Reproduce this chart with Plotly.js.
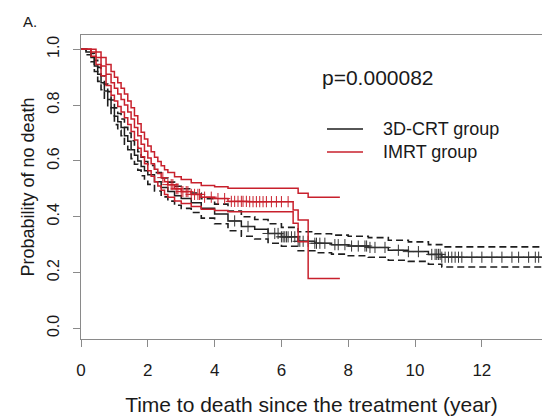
<!DOCTYPE html>
<html>
<head>
<meta charset="utf-8">
<script src="https://cdn.plot.ly/plotly-3.0.1.min.js"></script>
<style>
  html, body { margin: 0; padding: 0; background: #ffffff; }
  #chart { width: 542px; height: 416px; }
</style>
</head>
<body>
<div id="chart"></div>
<script>
// ---- 3D-CRT group (Kaplan-Meier estimate with 95% CI) ----
const crtTime  = [0, 0.15, 0.3, 0.4, 0.5, 0.6, 0.7, 0.8, 0.9, 1.0, 1.1, 1.2, 1.3, 1.4, 1.5, 1.6, 1.7, 1.8, 1.9, 2.0, 2.2, 2.4, 2.6, 2.8, 3.0, 3.3, 3.6, 4.0, 4.4, 4.8, 5.2, 5.6, 6.0, 6.5, 7.0, 7.5, 8.0, 8.6, 9.2, 9.8, 10.4, 10.8, 13.8];
const crtSurv  = [1.0, 0.99, 0.97, 0.94, 0.91, 0.88, 0.85, 0.82, 0.79, 0.76, 0.74, 0.72, 0.69, 0.67, 0.64, 0.62, 0.60, 0.58, 0.565, 0.55, 0.525, 0.505, 0.49, 0.475, 0.465, 0.45, 0.43, 0.41, 0.385, 0.365, 0.355, 0.34, 0.328, 0.312, 0.305, 0.30, 0.295, 0.29, 0.28, 0.275, 0.265, 0.255, 0.255];
const crtUpper = [1.0, 1.0, 0.985, 0.96, 0.935, 0.905, 0.875, 0.848, 0.818, 0.79, 0.77, 0.75, 0.72, 0.70, 0.672, 0.652, 0.633, 0.613, 0.598, 0.584, 0.558, 0.539, 0.524, 0.509, 0.50, 0.485, 0.465, 0.445, 0.42, 0.40, 0.39, 0.375, 0.362, 0.346, 0.339, 0.334, 0.33, 0.325, 0.316, 0.31, 0.30, 0.292, 0.292];
const crtLower = [1.0, 0.98, 0.955, 0.92, 0.885, 0.855, 0.825, 0.792, 0.762, 0.73, 0.71, 0.69, 0.66, 0.64, 0.608, 0.588, 0.567, 0.547, 0.532, 0.516, 0.492, 0.471, 0.456, 0.441, 0.43, 0.415, 0.395, 0.375, 0.35, 0.33, 0.32, 0.305, 0.294, 0.278, 0.271, 0.266, 0.26, 0.255, 0.244, 0.24, 0.23, 0.22, 0.22];
const crtCensor = [4.6, 5.0, 5.6, 5.8, 5.9, 6.0, 6.05, 6.1, 6.15, 6.2, 6.3, 6.4, 6.5, 6.55, 6.65, 6.8, 7.0, 7.05, 7.15, 7.3, 7.6, 7.7, 7.9, 8.1, 8.3, 8.5, 8.55, 8.65, 8.8, 9.1, 9.5, 9.8, 10.1, 10.5, 10.6, 10.65, 10.7, 10.75, 10.8, 10.9, 11.0, 11.1, 11.2, 11.3, 11.4, 11.7, 12.0, 12.3, 12.6, 12.9, 13.1, 13.4, 13.6, 13.7];

// ---- IMRT group ----
const imrtTime  = [0, 0.3, 0.45, 0.6, 0.75, 0.9, 1.0, 1.1, 1.2, 1.3, 1.4, 1.5, 1.6, 1.7, 1.8, 1.9, 2.0, 2.1, 2.2, 2.3, 2.4, 2.5, 2.6, 2.8, 3.0, 3.3, 3.6, 4.0, 4.4, 5.0, 5.5, 6.35, 6.5, 6.8, 7.75];
const imrtSurv  = [1.0, 0.99, 0.97, 0.94, 0.91, 0.88, 0.86, 0.84, 0.82, 0.80, 0.775, 0.75, 0.72, 0.69, 0.66, 0.635, 0.61, 0.59, 0.57, 0.555, 0.54, 0.525, 0.515, 0.50, 0.49, 0.48, 0.47, 0.465, 0.455, 0.454, 0.454, 0.424, 0.388, 0.179, 0.179];
const imrtUpper = [1.0, 1.0, 0.99, 0.97, 0.945, 0.92, 0.90, 0.88, 0.86, 0.84, 0.815, 0.79, 0.762, 0.733, 0.703, 0.678, 0.653, 0.633, 0.613, 0.598, 0.583, 0.568, 0.558, 0.543, 0.533, 0.522, 0.512, 0.507, 0.502, 0.502, 0.502, 0.502, 0.484, 0.47, 0.47];
const imrtLower = [1.0, 0.975, 0.945, 0.905, 0.87, 0.835, 0.815, 0.795, 0.775, 0.755, 0.73, 0.705, 0.675, 0.645, 0.615, 0.59, 0.565, 0.545, 0.525, 0.51, 0.495, 0.48, 0.47, 0.456, 0.447, 0.437, 0.427, 0.422, 0.418, 0.418, 0.418, 0.377, 0.31, 0.31, null];
const imrtCensor = [2.45, 2.6, 2.7, 2.75, 2.85, 2.9, 3.0, 3.05, 3.15, 3.2, 3.3, 3.4, 3.5, 3.55, 3.7, 3.9, 4.1, 4.3, 4.5, 4.6, 4.7, 4.8, 4.85, 4.95, 5.05, 5.15, 5.25, 5.35, 5.45, 5.55, 5.7, 5.85, 6.0, 6.2];

// ---- axes / labels ----
const xTicks = [0, 2, 4, 6, 8, 10, 12];
const yTicks = [0, 0.2, 0.4, 0.6, 0.8, 1.0];
const yTickText = ["0.0", "0.2", "0.4", "0.6", "0.8", "1.0"];
const groupNames = ["3D-CRT group", "IMRT group"];

const BLACK = "#1e1e1e";
const RED = "#c8202c";
const FONT = "Liberation Sans, Arial, sans-serif";

function stepValue(times, surv, t) {
  let v = surv[0];
  for (let i = 0; i < times.length; i++) {
    if (times[i] <= t && surv[i] !== null) v = surv[i];
  }
  return v;
}

const traces = [
  {x: crtTime, y: crtUpper, mode: "lines", name: groupNames[0] + " 95% CI upper", line: {shape: "hv", color: BLACK, width: 1.6, dash: "7px,4px"}, showlegend: false},
  {x: crtTime, y: crtLower, mode: "lines", name: groupNames[0] + " 95% CI lower", line: {shape: "hv", color: BLACK, width: 1.6, dash: "7px,4px"}, showlegend: false},
  {x: crtTime, y: crtSurv, mode: "lines", name: groupNames[0], line: {shape: "hv", color: BLACK, width: 1.5}, showlegend: false},
  {x: crtCensor, y: crtCensor.map(t => stepValue(crtTime, crtSurv, t)), mode: "markers", name: groupNames[0] + " censored", showlegend: false,
   marker: {symbol: "cross-thin", size: 8, color: BLACK, line: {color: "#333", width: 1}}},
  {x: imrtTime, y: imrtUpper, mode: "lines", name: groupNames[1] + " 95% CI upper", line: {shape: "hv", color: RED, width: 1.5}, showlegend: false},
  {x: imrtTime, y: imrtLower, mode: "lines", name: groupNames[1] + " 95% CI lower", line: {shape: "hv", color: RED, width: 1.5}, showlegend: false},
  {x: imrtTime, y: imrtSurv, mode: "lines", name: groupNames[1], line: {shape: "hv", color: RED, width: 1.5}, showlegend: false},
  {x: imrtCensor, y: imrtCensor.map(t => stepValue(imrtTime, imrtSurv, t)), mode: "markers", name: groupNames[1] + " censored", showlegend: false,
   marker: {symbol: "cross-thin", size: 8, color: RED, line: {color: RED, width: 1}}}
];

// legend drawn as key lines + labels (paper coordinates of the plot area)
const legendColors = [BLACK, RED];
const legendY = [0.691, 0.615];
const shapes = legendColors.map((c, i) => ({
  type: "line", xref: "paper", yref: "paper", x0: 0.5336, x1: 0.6117, y0: legendY[i], y1: legendY[i],
  line: {color: c, width: 1.5}
}));

const layout = {
  width: 542, height: 416,
  margin: {l: 81, r: 0, t: 35, b: 77},
  paper_bgcolor: "#ffffff", plot_bgcolor: "#ffffff",
  font: {family: FONT, color: "#1a1a1a"},
  showlegend: false,
  xaxis: {
    range: [0, 13.8], tickmode: "array", tickvals: xTicks, ticktext: xTicks.map(String),
    ticks: "outside", ticklen: 7, tickcolor: "#8a8a8a", tickwidth: 1, ticklabelstandoff: 9,
    showline: true, linecolor: "#8a8a8a", linewidth: 1, mirror: true,
    showgrid: false, zeroline: false, tickfont: {family: FONT, size: 17, color: "#1a1a1a"},
    title: {text: "Time to death since the treatment (year)", font: {family: FONT, size: 21, color: "#1a1a1a"}, standoff: 18}
  },
  yaxis: {
    range: [-0.038, 1.051], tickmode: "array", tickvals: yTicks, ticktext: yTickText, tickangle: -90,
    ticks: "outside", ticklen: 7, tickcolor: "#8a8a8a", tickwidth: 1, ticklabelstandoff: 8,
    showline: true, linecolor: "#8a8a8a", linewidth: 1,
    showgrid: false, zeroline: false, tickfont: {family: FONT, size: 16, color: "#1a1a1a"},
    title: {text: "Probability of no death", font: {family: FONT, size: 18, color: "#1a1a1a"}, standoff: 5}
  },
  shapes: shapes,
  annotations: [
    {text: "A.", xref: "paper", yref: "paper", x: -0.11, y: 1.043, showarrow: false, xanchor: "center", yanchor: "middle",
     font: {family: FONT, size: 15, color: "#1a1a1a"}},
    {text: "p=0.000082", xref: "paper", yref: "paper", x: 0.518, y: 0.859, showarrow: false, xanchor: "left", yanchor: "middle",
     font: {family: FONT, size: 21, color: "#1a1a1a"}},
    {text: groupNames[0], xref: "paper", yref: "paper", x: 0.651, y: legendY[0], showarrow: false, xanchor: "left", yanchor: "middle",
     font: {family: FONT, size: 18, color: "#1a1a1a"}},
    {text: groupNames[1], xref: "paper", yref: "paper", x: 0.651, y: legendY[1], showarrow: false, xanchor: "left", yanchor: "middle",
     font: {family: FONT, size: 18, color: "#1a1a1a"}}
  ]
};

Plotly.newPlot("chart", traces, layout, {displayModeBar: false, staticPlot: true});
</script>
</body>
</html>
